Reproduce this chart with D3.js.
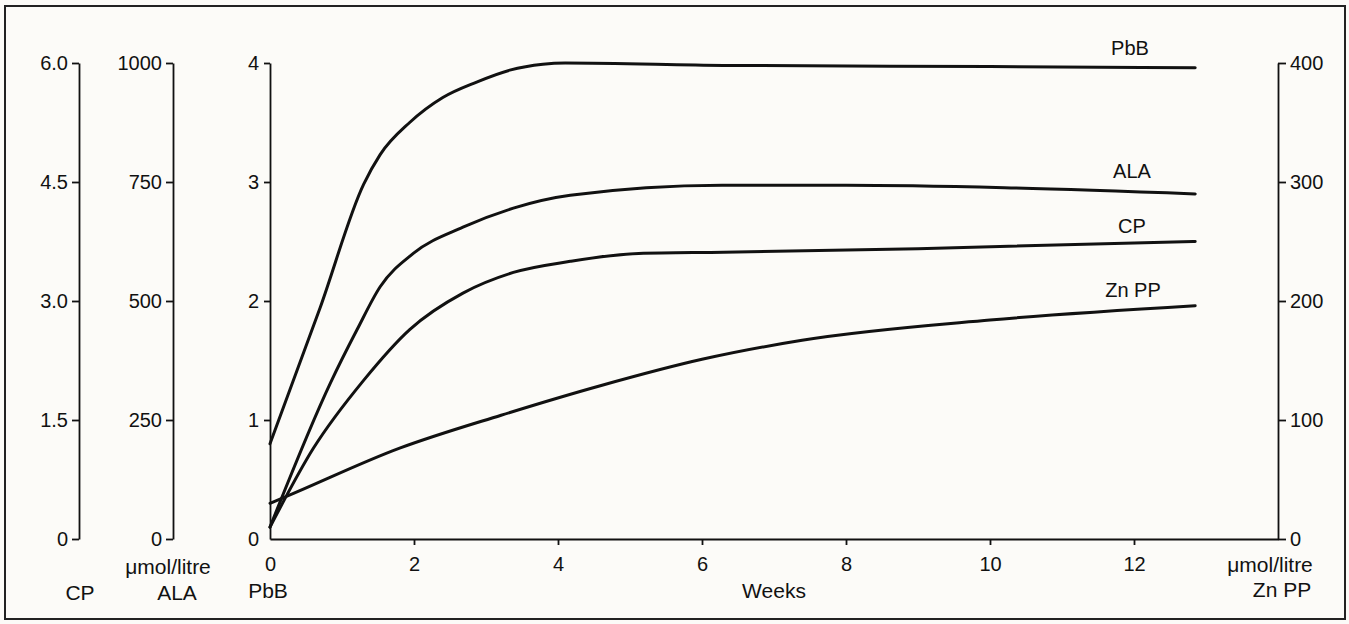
<!DOCTYPE html>
<html>
<head>
<meta charset="utf-8">
<script src="https://cdn.jsdelivr.net/npm/d3@7"></script>
<style>
  body { margin: 0; background: #fcfbf8; }
  svg text { font-family: "Liberation Sans", Arial, Helvetica, sans-serif; fill: #111; }
  .axis path, .axis line { stroke: #111; stroke-width: 1.8; }
  .curve { fill: none; stroke: #111; stroke-width: 3; stroke-linecap: round; }
</style>
</head>
<body>
<script>
// weeks on x, each series on its own axis
var weekTicks = [0, 2, 4, 6, 8, 10, 12];
var cpTicks = [0, 1.5, 3.0, 4.5, 6.0];
var alaTicks = [0, 250, 500, 750, 1000];
var pbbTicks = [0, 1, 2, 3, 4];
var znTicks = [0, 100, 200, 300, 400];

// PbB (umol/litre, 0-4)
var pbbWeeks = [0, 0.7, 1.3, 1.53, 1.94, 2.4, 2.87, 3.33, 3.79, 4.1, 6.3, 10, 12.85];
var pbbValues = [0.8, 1.95, 2.98, 3.23, 3.5, 3.71, 3.84, 3.94, 3.99, 4.0, 3.98, 3.97, 3.96];

// ALA (umol/litre, 0-1000)
var alaWeeks = [0, 0.84, 1.21, 1.53, 1.99, 2.68, 3.38, 4.17, 6.28, 8, 10.2, 12.85];
var alaValues = [25, 328, 440, 530, 600, 655, 695, 722, 743, 743, 738, 725];

// CP (0-6.0)
var cpWeeks = [0, 0.6, 1.3, 1.94, 2.68, 3.38, 4.17, 5.12, 6.3, 9, 12.85];
var cpValues = [0.15, 1.14, 2.0, 2.64, 3.1, 3.36, 3.5, 3.6, 3.615, 3.66, 3.75];

// Zn PP (umol/litre, 0-400)
var znWeeks = [0, 0.18, 1.81, 3.21, 4.6, 6.0, 7.39, 10, 12.85];
var znValues = [30, 34.5, 76.5, 104, 129, 151, 167, 184, 196];

var WIDTH = 1349, HEIGHT = 624;

var svg = d3.select("body").append("svg")
  .attr("width", WIDTH)
  .attr("height", HEIGHT);

svg.append("rect")
  .attr("x", 5).attr("y", 6)
  .attr("width", 1340).attr("height", 613)
  .attr("fill", "#fcfbf8")
  .attr("stroke", "#222")
  .attr("stroke-width", 2);

//scales
var x = d3.scaleLinear().domain([0, 14]).range([270, 1278]);
var yRange = [539, 63];
var yPbB = d3.scaleLinear().domain([0, 4]).range(yRange);
var yAla = d3.scaleLinear().domain([0, 1000]).range(yRange);
var yCp = d3.scaleLinear().domain([0, 6]).range(yRange);
var yZn = d3.scaleLinear().domain([0, 400]).range(yRange);

function styleAxis(g) {
  g.attr("class", "axis");
  g.selectAll("text").attr("font-size", 20).attr("fill", "#111");
}

//axes
svg.append("g")
  .attr("transform", "translate(79,0)")
  .call(d3.axisLeft(yCp).tickValues(cpTicks)
    .tickFormat(function(d) { return d === 0 ? "0" : d.toFixed(1); })
    .tickSize(7).tickSizeOuter(0).tickPadding(4))
  .call(styleAxis);

svg.append("g")
  .attr("transform", "translate(173,0)")
  .call(d3.axisLeft(yAla).tickValues(alaTicks)
    .tickFormat(d3.format("d"))
    .tickSize(7).tickSizeOuter(0).tickPadding(4))
  .call(styleAxis);

var pbbAxis = svg.append("g")
  .attr("transform", "translate(270,0)")
  .call(d3.axisLeft(yPbB).tickValues(pbbTicks)
    .tickFormat(d3.format("d"))
    .tickSize(6).tickSizeOuter(0).tickPadding(5))
  .call(styleAxis);
pbbAxis.selectAll(".tick").filter(function(d) { return d === 0; })
  .select("line").remove();

svg.append("g")
  .attr("transform", "translate(1278,0)")
  .call(d3.axisRight(yZn).tickValues(znTicks)
    .tickFormat(d3.format("d"))
    .tickSize(8).tickSizeOuter(0).tickPadding(4))
  .call(styleAxis);

var xAxis = svg.append("g")
  .attr("transform", "translate(0,539)")
  .call(d3.axisBottom(x).tickValues(weekTicks)
    .tickSize(6).tickSizeOuter(0).tickPadding(12))
  .call(styleAxis);
xAxis.selectAll(".tick").filter(function(d) { return d === 0; })
  .select("line").remove();

//curves
var series = [
  { weeks: pbbWeeks, values: pbbValues, y: yPbB },
  { weeks: alaWeeks, values: alaValues, y: yAla },
  { weeks: cpWeeks, values: cpValues, y: yCp },
  { weeks: znWeeks, values: znValues, y: yZn }
];

series.forEach(function(s) {
  var pts = s.weeks.map(function(w, i) { return [w, s.values[i]]; });
  var line = d3.line()
    .x(function(d) { return x(d[0]); })
    .y(function(d) { return s.y(d[1]); })
    .curve(d3.curveMonotoneX);
  svg.append("path").attr("class", "curve").attr("d", line(pts));
});

//labels
var labels = [
  { t: "PbB", x: 1130, y: 55, s: 20 },
  { t: "ALA", x: 1132, y: 178, s: 20 },
  { t: "CP", x: 1132, y: 233, s: 20 },
  { t: "Zn PP", x: 1133, y: 297, s: 20 },
  { t: "CP", x: 80, y: 600, s: 21 },
  { t: "\u03bcmol/litre", x: 168, y: 574, s: 21 },
  { t: "ALA", x: 177, y: 600, s: 21 },
  { t: "PbB", x: 268, y: 598, s: 21 },
  { t: "Weeks", x: 774, y: 598, s: 21 },
  { t: "\u03bcmol/litre", x: 1270, y: 572, s: 21 },
  { t: "Zn PP", x: 1282, y: 597, s: 21 }
];

svg.selectAll("text.lbl").data(labels).enter().append("text")
  .attr("class", "lbl")
  .attr("x", function(d) { return d.x; })
  .attr("y", function(d) { return d.y; })
  .attr("text-anchor", "middle")
  .attr("font-size", function(d) { return d.s; })
  .text(function(d) { return d.t; });
</script>
</body>
</html>
